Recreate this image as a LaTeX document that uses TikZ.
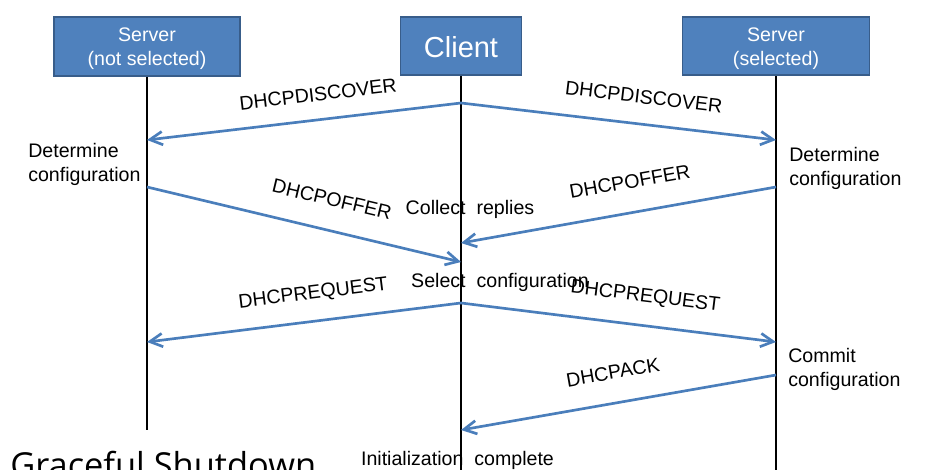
\documentclass[tikz,border=0pt]{standalone}
\usepackage{fontspec}
\setmainfont{Liberation Sans}
\newfontfamily\titlefont{Open Sans}
\usetikzlibrary{arrows.meta}

\definecolor{boxblue}{HTML}{4F81BD}
\definecolor{boxedge}{HTML}{385D8A}
\definecolor{msgblue}{HTML}{4A7EBB}
\newcommand{\msgfont}{\fontsize{14.7}{17.5}\selectfont}

\begin{document}
\begin{tikzpicture}[x=0.75pt, y=-0.75pt,
    box/.style={draw=boxedge, line width=1.3pt, fill=boxblue, text=white, align=center, inner sep=0pt, minimum height=44pt, text depth=0pt, font=\fontsize{14.7}{18}\selectfont},
    note/.style={align=left, inner sep=0pt, anchor=west, font=\msgfont},
    life/.style={line width=2.2pt},
    msg/.style={draw=msgblue, line width=2pt, -{Straight Barb[length=9.5pt, width=10pt]}},
    lbl/.style={sloped, inner sep=0pt, font=\msgfont}]
    \useasboundingbox (0,0) rectangle (927,470);
    \clip (0,0) rectangle (927,470);
    \node[box, minimum width=139.5pt, text height=29.25pt] (server_ns) at (147,46.5) {Server \\ (not selected)};
    \node[box, minimum width=90.75pt, text height=18pt, font=\fontsize{21.75}{26}\selectfont] (client) at (461,46) {Client};
    \node[box, minimum width=140.25pt, text height=29.25pt] (server_s) at (776,46) {Server \\ (selected)};
    \node[note] (determine_ns) at (28,164.5) {Determine \\ configuration};
    \node[note] (determine_s) at (789,168.5) {Determine \\ configuration};
    \node[note] (commit_s) at (788,369.5) {Commit \\ configuration};
    \node[inner sep=0pt, font=\msgfont] (collect) at (470,209) {Collect\ \ replies};
    \node[inner sep=0pt, font=\msgfont] (select) at (500,282) {Select\ \ configuration};
    \node[inner sep=0pt, font=\msgfont] (init_done) at (457.5,460) {Initialization\ \ complete};
    \node[anchor=base west, inner sep=0pt, font=\titlefont\fontsize{25.8}{30}\selectfont] (shutdown) at (10,477) {Graceful Shutdown};
    \coordinate (server_ns_end) at (147,430);
    \coordinate (client_end) at (461,475);
    \coordinate (server_s_end) at (776,475);
    \coordinate (c_disc) at (461,103);
    \coordinate (ns_disc) at (147,140);
    \coordinate (s_disc) at (776,140);
    \coordinate (ns_offer) at (147,187);
    \coordinate (c_offer_ns) at (461,262);
    \coordinate (s_offer) at (776,187);
    \coordinate (c_offer_s) at (461,243);
    \coordinate (c_req) at (461,303);
    \coordinate (ns_req) at (147,342);
    \coordinate (s_req) at (776,342);
    \coordinate (s_ack) at (776,375);
    \coordinate (c_ack) at (461,430);
    \draw[life] (server_ns) -- (server_ns_end);
    \draw[life] (client) -- (client_end);
    \draw[life] (server_s) -- (server_s_end);
    \draw[msg] (c_disc) -- node[lbl, pos=0.446, above=12.8pt] (disc_ns) {DHCPDISCOVER} (ns_disc);
    \draw[msg] (c_disc) -- node[lbl, pos=0.57, above=14.4pt] (disc_s) {DHCPDISCOVER} (s_disc);
    \draw[msg] (ns_offer) -- node[lbl, pos=0.566, above=17pt] (offer_ns) {DHCPOFFER} (c_offer_ns);
    \draw[msg] (s_offer) -- node[lbl, pos=0.447, above=17pt] (offer_s) {DHCPOFFER} (c_offer_s);
    \draw[msg] (c_req) -- node[lbl, pos=0.46, above=12.9pt] (req_ns) {DHCPREQUEST} (ns_req);
    \draw[msg] (c_req) -- node[lbl, pos=0.574, above=13.9pt] (req_s) {DHCPREQUEST} (s_req);
    \draw[msg] (s_ack) -- node[lbl, pos=0.501, above=16.8pt] (ack) {DHCPACK} (c_ack);
\end{tikzpicture}
\end{document}
